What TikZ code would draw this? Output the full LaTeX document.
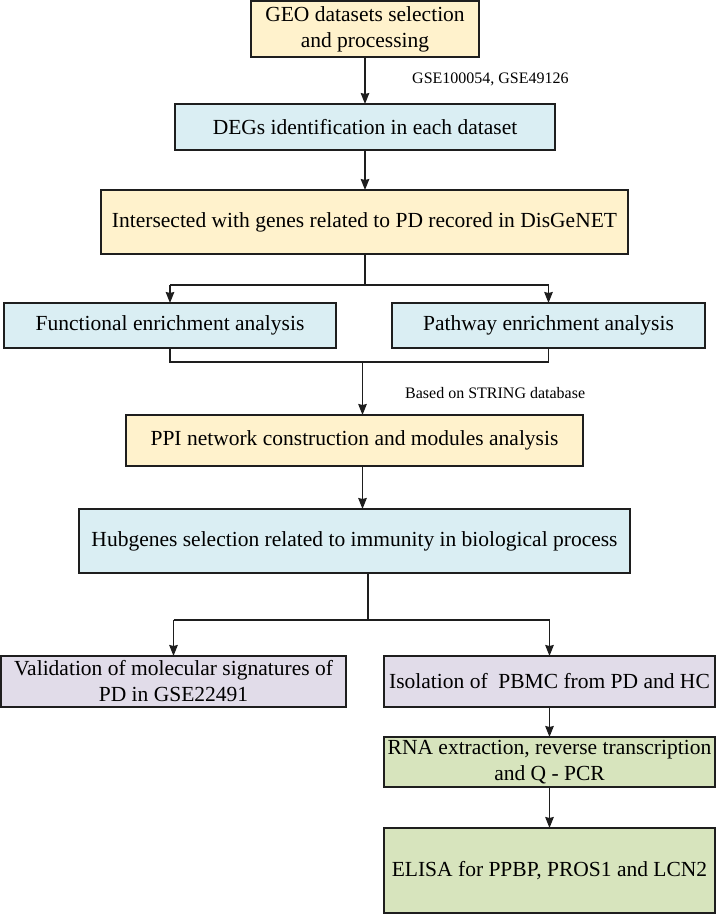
\documentclass[tikz,border=0pt]{standalone}
\usepackage{fontspec}
\setmainfont{Liberation Serif}
\usetikzlibrary{arrows.meta}
\definecolor{cyel}{HTML}{FFF2CC}
\definecolor{cblu}{HTML}{DAEEF3}
\definecolor{cpur}{HTML}{E1DCE9}
\definecolor{cgrn}{HTML}{D7E4BD}
\definecolor{cline}{HTML}{1E1E1E}
\begin{document}
\begin{tikzpicture}[x=1pt,y=-1pt,
  box/.style={draw=cline,line width=1.6pt,inner sep=0pt,outer sep=0pt,align=center,
    font=\fontsize{21.5}{26}\selectfont},
  yel/.style={box,fill=cyel},
  blu/.style={box,fill=cblu},
  pur/.style={box,fill=cpur},
  grn/.style={box,fill=cgrn},
  conn/.style={draw=cline,line width=1.4pt},
  arr/.style={conn,-{Stealth[length=11pt,width=8.5pt,inset=1pt]}},
  lbl/.style={font=\fontsize{16}{19}\selectfont,anchor=west,inner sep=0pt}]
\useasboundingbox (0,0) rectangle (716,914);
\node[yel,minimum width=228pt,minimum height=56pt] (geo) at (365,29) {GEO datasets selection\\and processing};
\node[blu,minimum width=380pt,minimum height=46pt] (degs) at (365,127) {DEGs identification in each dataset};
\node[yel,minimum width=527pt,minimum height=64pt] (inter) at (364.5,222) {Intersected with genes related to PD recored in DisGeNET};
\node[blu,minimum width=332pt,minimum height=45pt] (func) at (170,325.5) {Functional enrichment analysis};
\node[blu,minimum width=313pt,minimum height=45pt] (path) at (548.5,325.5) {Pathway enrichment analysis};
\node[yel,minimum width=457pt,minimum height=51pt] (ppi) at (354.5,440.5) {PPI network construction and modules analysis};
\node[blu,minimum width=551pt,minimum height=64pt] (hub) at (354.5,541) {Hubgenes selection related to immunity in biological process};
\node[pur,minimum width=345pt,minimum height=51pt] (valid) at (173.5,681.5) {Validation of molecular signatures of\\PD in GSE22491};
\node[pur,minimum width=331pt,minimum height=51pt] (iso) at (549.5,681.5) {Isolation of~ PBMC from PD and HC};
\node[grn,minimum width=331pt,minimum height=50pt] (rna) at (549.5,762) {RNA extraction, reverse transcription\\and Q - PCR};
\node[grn,minimum width=331pt,minimum height=85pt] (elisa) at (549.5,870.5) {ELISA for PPBP, PROS1 and LCN2};

\node[lbl] (l1) at (412,79) {GSE100054, GSE49126};
\node[lbl] (l2) at (405,393) {Based on STRING database};

\draw[arr] (geo.south) -- (degs.north);
\draw[arr] (degs.south) -- (degs.south |- inter.north);
% split to func and path
\coordinate (s1) at (365,285);
\draw[conn] (inter.south -| s1) -- (s1);
\draw[conn] (func.north |- s1) -- (path.north |- s1);
\draw[arr] (func.north |- s1) -- (func.north);
\draw[arr] (path.north |- s1) -- (path.north);
% merge into ppi
\coordinate (m1) at (362.5,362);
\draw[conn] (func.south) -- (func.south |- m1) -- (path.south |- m1) -- (path.south);
\draw[arr] (m1) -- (m1 |- ppi.north);
\draw[arr] (m1 |- ppi.south) -- (m1 |- hub.north);
% split to valid and iso
\coordinate (s2) at (368,620);
\draw[conn] (s2 |- hub.south) -- (s2);
\draw[conn] (valid.north |- s2) -- (iso.north |- s2);
\draw[arr] (valid.north |- s2) -- (valid.north);
\draw[arr] (iso.north |- s2) -- (iso.north);
\draw[arr] (iso.south) -- (rna.north);
\draw[arr] (rna.south) -- (elisa.north);
\end{tikzpicture}
\end{document}
